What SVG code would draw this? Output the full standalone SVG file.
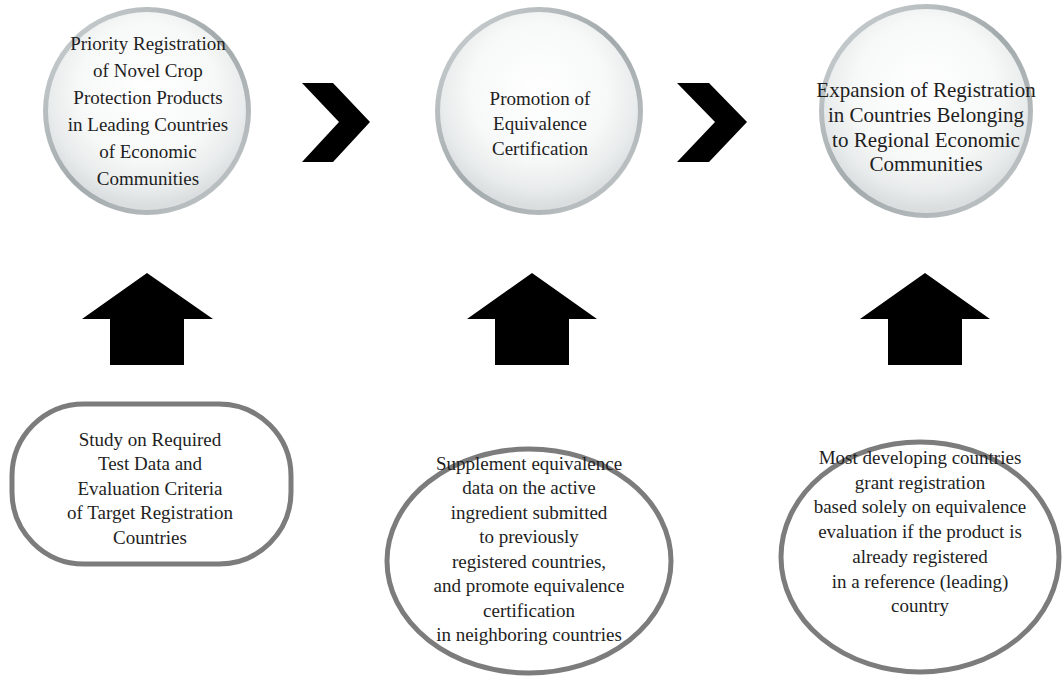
<svg xmlns="http://www.w3.org/2000/svg" width="1063" height="677" viewBox="0 0 1063 677">
<defs>
<linearGradient id="ring" x1="0" y1="0" x2="1" y2="1">
<stop offset="0" stop-color="#cfd4d5"/>
<stop offset="0.5" stop-color="#a3aaac"/>
<stop offset="1" stop-color="#c3c8c9"/>
</linearGradient>
<radialGradient id="glass" cx="0.5" cy="0.4" r="0.58">
<stop offset="0" stop-color="#ffffff"/>
<stop offset="0.6" stop-color="#f7f8f8"/>
<stop offset="0.85" stop-color="#e9ecec"/>
<stop offset="1" stop-color="#dadedf"/>
</radialGradient>
<style>
.t{font-family:"Liberation Serif","Times New Roman",serif;font-size:19px;fill:#1e1e1e;text-anchor:middle}
.big{font-size:21px}
.bot{fill:#ffffff;stroke:#7c7c7c;stroke-width:5}
.arr{fill:#000000}
</style>
</defs>
<rect width="1063" height="677" fill="#ffffff"/>

<g id="connectors">
<polygon class="arr" points="302,83 333,83 370,122 333,162 302,162 339,122"/>
<polygon class="arr" points="677,83 709,83 747,122 709,162 677,162 715,122"/>
<polygon class="arr" points="147,273 82,319 110,319 110,365 184,365 184,319 213,319"/>
<polygon class="arr" points="532,273 467,319 495,319 495,365 569,365 569,319 597,319"/>
<polygon class="arr" points="925,273 860,319 888,319 888,365 962,365 962,319 990,319"/>
</g>

<g id="node-top1">
<circle cx="147" cy="111" r="104" fill="url(#ring)"/>
<circle cx="147" cy="111" r="99" fill="url(#glass)"/>
<text class="t" x="148" y="50">Priority Registration</text>
<text class="t" x="148" y="77">of Novel Crop</text>
<text class="t" x="148" y="104">Protection Products</text>
<text class="t" x="148" y="131">in Leading Countries</text>
<text class="t" x="148" y="158">of Economic</text>
<text class="t" x="148" y="185">Communities</text>
</g>

<g id="node-top2">
<circle cx="539" cy="111" r="104" fill="url(#ring)"/>
<circle cx="539" cy="111" r="99" fill="url(#glass)"/>
<text class="t" x="540" y="105">Promotion of</text>
<text class="t" x="540" y="130">Equivalence</text>
<text class="t" x="540" y="155">Certification</text>
</g>

<g id="node-top3">
<circle cx="926" cy="111" r="107" fill="url(#ring)"/>
<circle cx="926" cy="111" r="102" fill="url(#glass)"/>
<text class="t big" x="926" y="97">Expansion of Registration</text>
<text class="t big" x="926" y="122">in Countries Belonging</text>
<text class="t big" x="926" y="147">to Regional Economic</text>
<text class="t big" x="926" y="171">Communities</text>
</g>

<g id="node-bot1">
<rect class="bot" x="12" y="404" width="279" height="160" rx="72" ry="72"/>
<text class="t" x="150" y="446">Study on Required</text>
<text class="t" x="150" y="470">Test Data and</text>
<text class="t" x="150" y="495">Evaluation Criteria</text>
<text class="t" x="150" y="519">of Target Registration</text>
<text class="t" x="150" y="544">Countries</text>
</g>

<g id="node-bot2">
<ellipse class="bot" cx="529" cy="561" rx="142" ry="112"/>
<text class="t" x="529" y="470">Supplement equivalence</text>
<text class="t" x="529" y="494">data on the active</text>
<text class="t" x="529" y="519">ingredient submitted</text>
<text class="t" x="529" y="543">to previously</text>
<text class="t" x="529" y="568">registered countries,</text>
<text class="t" x="529" y="592">and promote equivalence</text>
<text class="t" x="529" y="617">certification</text>
<text class="t" x="529" y="641">in neighboring countries</text>
</g>

<g id="node-bot3">
<ellipse class="bot" cx="920" cy="557" rx="139" ry="115"/>
<text class="t" x="920" y="464">Most developing countries</text>
<text class="t" x="920" y="489">grant registration</text>
<text class="t" x="920" y="513">based solely on equivalence</text>
<text class="t" x="920" y="538">evaluation if the product is</text>
<text class="t" x="920" y="563">already registered</text>
<text class="t" x="920" y="588">in a reference (leading)</text>
<text class="t" x="920" y="612">country</text>
</g>
</svg>
